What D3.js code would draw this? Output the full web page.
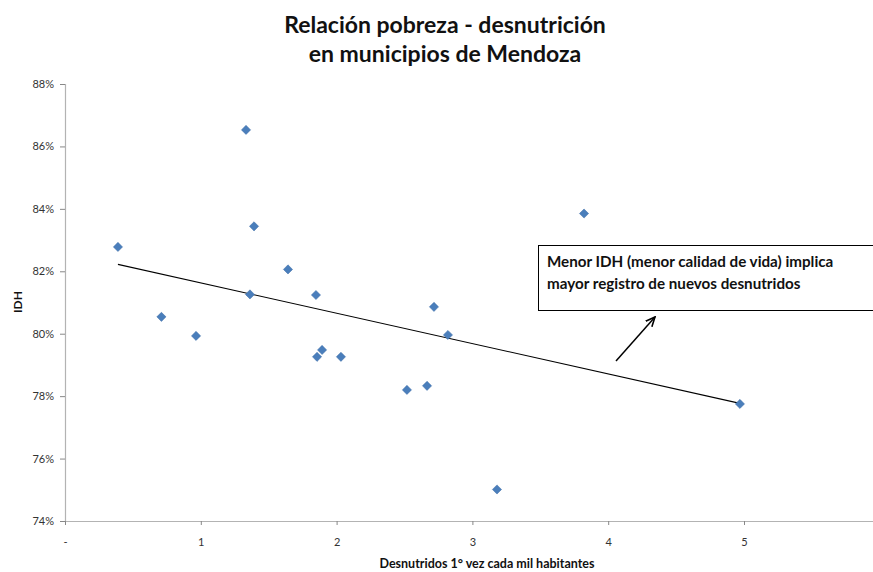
<!DOCTYPE html>
<html>
<head>
<meta charset="utf-8">
<script src="https://cdn.jsdelivr.net/npm/d3@7"></script>
<style>
  body { margin: 0; background: #fff; }
  text { font-family: Lato, 'Open Sans', sans-serif; }
</style>
</head>
<body>
<div id="chart"></div>
<script>
// desnutridos 1° vez cada mil habitantes
let desnutridos = [0.39, 0.71, 0.965, 1.333, 1.362, 1.392, 1.642, 1.848, 1.856, 1.893, 2.032, 2.518, 2.666, 2.717, 2.82, 3.181, 3.822, 4.97]
// IDH (%)
let idh = [82.78, 80.54, 79.93, 86.53, 81.26, 83.44, 82.06, 81.24, 79.26, 79.48, 79.26, 78.2, 78.33, 80.86, 79.96, 75.01, 83.85, 77.75]

let xTicks = [0, 1, 2, 3, 4, 5]
let yTicks = [74, 76, 78, 80, 82, 84, 86, 88]

let titleLines = ['Relación pobreza - desnutrición', 'en municipios de Mendoza']
let noteLines = ['Menor IDH (menor calidad de vida) implica', 'mayor registro de nuevos desnutridos']

let width = 873
let height = 572
let margin = { top: 84, left: 65, bottom: 51 }

let svg = d3.select('#chart')
  .append('svg')
  .attr('width', width)
  .attr('height', height)

let xScale = d3.scaleLinear().domain([0, 6]).range([margin.left, margin.left + 6 * 135.8])
let yScale = d3.scaleLinear().domain([74, 88]).range([height - margin.bottom, margin.top])

// title
svg.append('g')
  .selectAll('text')
  .data(titleLines)
  .enter()
  .append('text')
  .attr('x', 445)
  .attr('y', (d, i) => 33 + i * 29)
  .attr('text-anchor', 'middle')
  .attr('font-size', 23)
  .attr('font-weight', 'bold')
  .attr('fill', '#111')
  .text(d => d)

// y axis
let yAxis = svg.append('g')
  .attr('transform', `translate(${margin.left},0)`)
  .call(d3.axisLeft(yScale).tickValues(yTicks).tickSize(5).tickFormat(d => d + '%'))
yAxis.select('.domain').attr('stroke', '#b3b3b3').attr('stroke-width', 1.2)
yAxis.selectAll('.tick line').attr('stroke', '#888')
yAxis.selectAll('.tick text').attr('font-size', 11).attr('fill', '#333').attr('dx', -3)

// x axis
let xAxis = svg.append('g')
  .attr('transform', `translate(0,${height - margin.bottom})`)
  .call(d3.axisBottom(xScale).tickValues(xTicks).tickSize(4).tickSizeOuter(0).tickFormat(d => d === 0 ? '-' : d))
xAxis.select('.domain').attr('stroke', '#b3b3b3').attr('stroke-width', 1.2)
xAxis.selectAll('.tick line').attr('stroke', '#888')
xAxis.selectAll('.tick text').attr('font-size', 11).attr('fill', '#333').attr('dy', '1.6em')

// axis titles
svg.append('text')
  .attr('x', 487)
  .attr('y', 568)
  .attr('text-anchor', 'middle')
  .attr('font-size', 12.5)
  .attr('font-weight', 'bold')
  .attr('fill', '#111')
  .text('Desnutridos 1° vez  cada mil habitantes')

svg.append('text')
  .attr('transform', 'translate(22,302) rotate(-90)')
  .attr('text-anchor', 'middle')
  .attr('font-size', 12)
  .attr('font-weight', 'bold')
  .attr('fill', '#111')
  .text('IDH')

// linear trend line (least squares)
let points = desnutridos.map((d, i) => ({ x: d, y: idh[i] }))
let mx = d3.mean(points, d => d.x)
let my = d3.mean(points, d => d.y)
let slope = d3.sum(points, d => (d.x - mx) * (d.y - my)) / d3.sum(points, d => (d.x - mx) ** 2)
let intercept = my - slope * mx
let ext = d3.extent(desnutridos)

svg.append('line')
  .attr('x1', xScale(ext[0]))
  .attr('y1', yScale(intercept + slope * ext[0]))
  .attr('x2', xScale(ext[1]))
  .attr('y2', yScale(intercept + slope * ext[1]))
  .attr('stroke', '#000')
  .attr('stroke-width', 1.1)

// points (square diamonds)
svg.append('g')
  .selectAll('path')
  .data(points)
  .enter()
  .append('path')
  .attr('d', d3.symbol().type(d3.symbolSquare).size(42))
  .attr('transform', d => `translate(${xScale(d.x)},${yScale(d.y)}) rotate(45)`)
  .attr('fill', '#4a7ebb')
  .attr('stroke', '#3f6fa8')
  .attr('stroke-width', 0.5)

// annotation box
svg.append('rect')
  .attr('x', 538.5)
  .attr('y', 245.5)
  .attr('width', 360)
  .attr('height', 65)
  .attr('fill', '#fff')
  .attr('stroke', '#000')
  .attr('stroke-width', 1)

svg.append('g')
  .selectAll('text')
  .data(noteLines)
  .enter()
  .append('text')
  .attr('x', 547)
  .attr('y', (d, i) => 267 + i * 22)
  .attr('font-size', 15.2)
  .attr('font-weight', 'bold')
  .attr('fill', '#111')
  .text(d => d)

// arrow
svg.append('defs')
  .append('marker')
  .attr('id', 'arrow')
  .attr('viewBox', '0 0 10 10')
  .attr('refX', 9)
  .attr('refY', 5)
  .attr('markerWidth', 7)
  .attr('markerHeight', 7)
  .attr('orient', 'auto')
  .append('path')
  .attr('d', 'M0,1 L9,5 L0,9')
  .attr('fill', 'none')
  .attr('stroke', '#000')
  .attr('stroke-width', 1.5)

svg.append('line')
  .attr('x1', 616)
  .attr('y1', 361)
  .attr('x2', 655)
  .attr('y2', 317)
  .attr('stroke', '#000')
  .attr('stroke-width', 1.5)
  .attr('marker-end', 'url(#arrow)')
</script>
</body>
</html>
